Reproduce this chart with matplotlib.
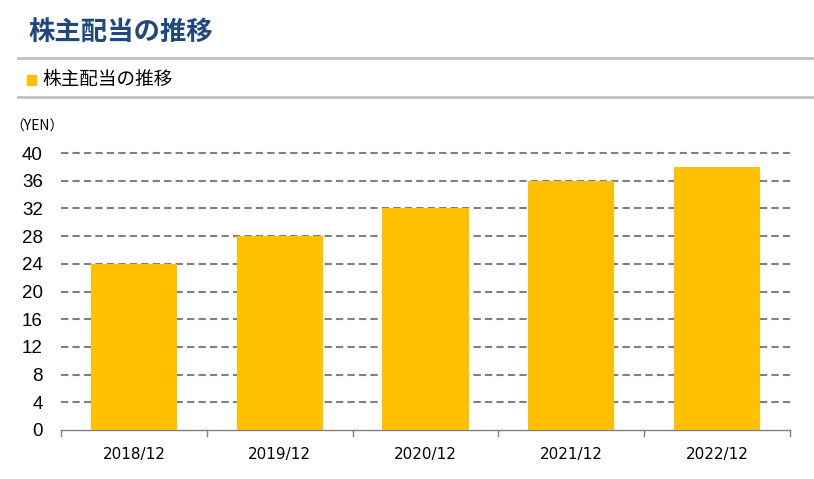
import matplotlib
matplotlib.use("Agg")
import matplotlib.pyplot as plt
from matplotlib.lines import Line2D
from matplotlib.patches import Rectangle

plt.rcParams['font.family'] = ['Noto Sans CJK JP', 'DejaVu Sans']

categories = ["2018/12", "2019/12", "2020/12", "2021/12", "2022/12"]
values = [24, 28, 32, 36, 38]
yticks = [0, 4, 8, 12, 16, 20, 24, 28, 32, 36, 40]
title = "株主配当の推移"
series_name = "株主配当の推移"
unit = "（YEN）"

W, H = 814, 479
fig = plt.figure(figsize=(W / 100, H / 100), dpi=100)

left, right, top, bottom = 61, 790, 153, 430
ax = fig.add_axes([left / W, 1 - bottom / H, (right - left) / W, (bottom - top) / H])

bar_color = "#FFC000"
x = list(range(len(categories)))
ax.bar(x, values, width=0.59, color=bar_color, zorder=3)
ax.set_xlim(-0.5, len(categories) - 0.5)
ax.set_ylim(0, 40)
ax.set_yticks(yticks)
ax.set_yticklabels([str(v) for v in yticks], fontsize=13.5, family=['Liberation Sans', 'DejaVu Sans'])
for v in yticks[1:]:
    ax.axhline(v, color="#808080", lw=1.5, ls=(0, (3.5, 2)), zorder=1, clip_on=False)
ax.tick_params(axis='y', length=0, pad=13)
ax.set_xticks(x)
ax.set_xticklabels(categories, fontsize=11, family=['DejaVu Sans'])
ax.tick_params(axis='x', length=0, pad=12)
for b in [i - 0.5 for i in range(len(categories) + 1)]:
    ax.plot([b, b], [0, -0.02], transform=ax.get_xaxis_transform(), color="#808080", lw=1, clip_on=False)
for s in ["top", "right", "left"]:
    ax.spines[s].set_visible(False)
ax.spines["bottom"].set_color("#808080")
ax.spines["bottom"].set_linewidth(1)

fig.text(28 / W, 1 - 33 / H, title, fontsize=19, fontweight='bold', color="#1F497D", va='center', ha='left')
fig.add_artist(Line2D([18 / W, 1], [1 - 58 / H, 1 - 58 / H], color="#C0C0C0", lw=2, transform=fig.transFigure))
fig.add_artist(Line2D([18 / W, 1], [1 - 97 / H, 1 - 97 / H], color="#C0C0C0", lw=2, transform=fig.transFigure))
fig.add_artist(Rectangle((27 / W, 1 - 85 / H), 9 / W, 10 / H, color=bar_color, transform=fig.transFigure))
fig.text(42 / W, 1 - 80 / H, series_name, fontsize=13.4, color="black", va='center', ha='left')
fig.text(10 / W, 1 - 127 / H, unit, fontsize=10, color="black", va='center', ha='left')

fig.savefig("out.png", dpi=100)
